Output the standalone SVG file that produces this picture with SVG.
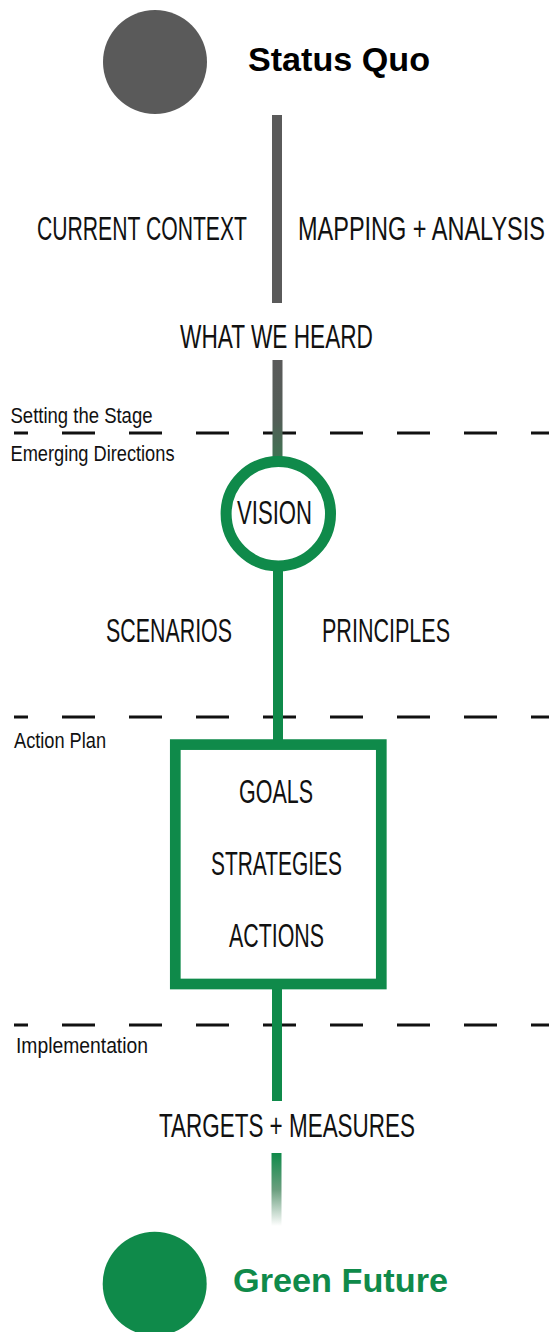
<svg xmlns="http://www.w3.org/2000/svg" width="549" height="1332" viewBox="0 0 549 1332">
  <style>
    .lbl { font-family: "Liberation Sans", Arial, sans-serif; font-size: 34px; fill: #111; }
    .small { font-family: "Liberation Sans", Arial, sans-serif; font-size: 22px; fill: #111; }
    .title { font-family: "Liberation Sans", Arial, sans-serif; font-weight: bold; font-size: 34px; }
    .divider { stroke: #111; stroke-width: 3; stroke-dasharray: 33 34; stroke-dashoffset: 19; fill: none; }
    .spine { stroke-width: 10; fill: none; }
    .green { stroke: #0f8a4a; }
    .gray { stroke: #5a5a5a; }
  </style>
  <defs>
    <linearGradient id="grayToGreen" gradientUnits="userSpaceOnUse" x1="0" y1="360" x2="0" y2="460">
      <stop offset="0" stop-color="#5a5a5a"/>
      <stop offset="0.6" stop-color="#535e57"/>
      <stop offset="1" stop-color="#3e7552"/>
    </linearGradient>
    <linearGradient id="greenFade" gradientUnits="userSpaceOnUse" x1="0" y1="1153" x2="0" y2="1226">
      <stop offset="0" stop-color="#0f8a4a"/>
      <stop offset="0.5" stop-color="#6a9e7e"/>
      <stop offset="1" stop-color="#ffffff"/>
    </linearGradient>
  </defs>

  <rect width="549" height="1332" fill="#ffffff"/>

  <!-- phase dividers -->
  <g id="dividers">
    <line class="divider" x1="14" y1="433" x2="549" y2="433"/>
    <line class="divider" x1="14" y1="717" x2="549" y2="717"/>
    <line class="divider" x1="14" y1="1025" x2="549" y2="1025"/>
  </g>

  <!-- vertical spine connecting the stages -->
  <g id="connectors">
    <line class="spine gray" x1="277" y1="115" x2="277" y2="303"/>
    <line class="spine" stroke="url(#grayToGreen)" x1="277.5" y1="360" x2="277.5" y2="462"/>
    <line class="spine green" x1="278" y1="565" x2="278" y2="745"/>
    <line class="spine green" x1="277" y1="984" x2="277" y2="1101"/>
    <line class="spine" stroke="url(#greenFade)" x1="276.5" y1="1153" x2="276.5" y2="1226"/>
  </g>

  <!-- phase labels (condensed by a horizontal scale of 0.8) -->
  <g id="phase-labels">
    <text class="small" transform="translate(10.5 423) scale(0.8 1)" textLength="177.5" lengthAdjust="spacingAndGlyphs">Setting the Stage</text>
    <text class="small" transform="translate(10.5 461) scale(0.8 1)" textLength="205" lengthAdjust="spacingAndGlyphs">Emerging Directions</text>
    <text class="small" transform="translate(14 748) scale(0.8 1)" textLength="115" lengthAdjust="spacingAndGlyphs">Action Plan</text>
    <text class="small" transform="translate(16 1053) scale(0.8 1)" textLength="165" lengthAdjust="spacingAndGlyphs">Implementation</text>
  </g>

  <g id="status-quo">
    <circle cx="155" cy="62" r="52" fill="#5a5a5a"/>
    <text class="title" x="248" y="71" fill="#000" textLength="182" lengthAdjust="spacingAndGlyphs">Status Quo</text>
  </g>

  <!-- stage labels (condensed by a horizontal scale) -->
  <g id="current-context">
    <text class="lbl" transform="translate(37 240) scale(0.75 1)" textLength="280" lengthAdjust="spacingAndGlyphs">CURRENT CONTEXT</text>
  </g>
  <g id="mapping-analysis">
    <text class="lbl" transform="translate(298 240) scale(0.68 1)" textLength="363.2" lengthAdjust="spacingAndGlyphs">MAPPING + ANALYSIS</text>
  </g>
  <g id="what-we-heard">
    <text class="lbl" transform="translate(180 348) scale(0.75 1)" textLength="257.3" lengthAdjust="spacingAndGlyphs">WHAT WE HEARD</text>
  </g>

  <g id="vision">
    <circle cx="278.3" cy="513.7" r="52.2" fill="#ffffff" stroke="#0f8a4a" stroke-width="11"/>
    <text class="lbl" transform="translate(237 524) scale(0.75 1)" textLength="100" lengthAdjust="spacingAndGlyphs">VISION</text>
  </g>

  <g id="scenarios">
    <text class="lbl" transform="translate(106 642) scale(0.75 1)" textLength="168" lengthAdjust="spacingAndGlyphs">SCENARIOS</text>
  </g>
  <g id="principles">
    <text class="lbl" transform="translate(322 642) scale(0.75 1)" textLength="170.7" lengthAdjust="spacingAndGlyphs">PRINCIPLES</text>
  </g>

  <g id="action-plan">
    <rect x="175.3" y="744.6" width="206" height="239.4" fill="#ffffff" stroke="#0f8a4a" stroke-width="10.7"/>
    <text class="lbl" transform="translate(239 803) scale(0.75 1)" textLength="98.7" lengthAdjust="spacingAndGlyphs">GOALS</text>
    <text class="lbl" transform="translate(211 875) scale(0.75 1)" textLength="174.7" lengthAdjust="spacingAndGlyphs">STRATEGIES</text>
    <text class="lbl" transform="translate(229 947) scale(0.75 1)" textLength="126.7" lengthAdjust="spacingAndGlyphs">ACTIONS</text>
  </g>

  <g id="targets-measures">
    <text class="lbl" transform="translate(159 1137) scale(0.75 1)" textLength="341.3" lengthAdjust="spacingAndGlyphs">TARGETS + MEASURES</text>
  </g>

  <g id="green-future">
    <circle cx="154.7" cy="1283.7" r="52" fill="#0f8a4a"/>
    <text class="title" x="233" y="1292" fill="#0f8a4a" font-size="33" textLength="215" lengthAdjust="spacingAndGlyphs">Green Future</text>
  </g>
</svg>
